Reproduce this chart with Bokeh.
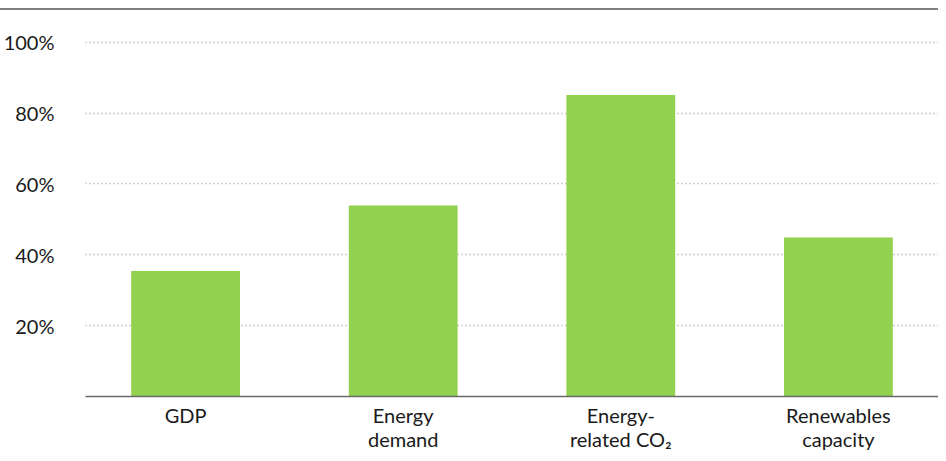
from bokeh.plotting import figure
from bokeh.models import FixedTicker, Range1d, FactorRange
from bokeh.embed import file_html
from bokeh.resources import INLINE

categories = ["GDP", "Energy\ndemand", "Energy-\nrelated CO\u2082", "Renewables\ncapacity"]
shares = [35.4, 53.9, 85.1, 44.9]
y_ticks = [20, 40, 60, 80, 100]
y_labels = {20: "20%", 40: "40%", 60: "60%", 80: "80%", 100: "100%"}

FONT = "Lato"

p = figure(width=938, height=443,
           x_range=FactorRange(*categories, range_padding=-0.04, range_padding_units="absolute"),
           y_range=Range1d(0, 105),
           output_backend="svg", toolbar_location=None,
           min_border_left=84, min_border_right=0, min_border_top=14, min_border_bottom=55)
p.styles = {"margin-top": "8px", "border-top": "2px solid #808080"}
p.outline_line_color = None
p.background_fill_color = "white"
p.border_fill_color = "white"

p.vbar(x=categories, top=shares, width=0.5, fill_color="#92D050", line_color=None)

p.xgrid.grid_line_color = None
p.ygrid.ticker = FixedTicker(ticks=y_ticks)
p.ygrid.grid_line_color = "#a0a0a0"
p.ygrid.grid_line_dash = "1 3"
p.ygrid.grid_line_width = 1.5

p.yaxis.ticker = FixedTicker(ticks=y_ticks)
p.yaxis.major_label_overrides = y_labels
p.yaxis.axis_line_color = None
p.yaxis.major_tick_line_color = None
p.yaxis.minor_tick_line_color = None
p.yaxis.major_label_standoff = 25
p.yaxis.major_label_text_font = FONT
p.yaxis.major_label_text_font_size = "20px"
p.yaxis.major_label_text_color = "#1a1a1a"

p.xaxis.axis_line_color = "#6a6a6a"
p.xaxis.axis_line_width = 1.5
p.xaxis.major_tick_line_color = None
p.xaxis.minor_tick_line_color = None
p.xaxis.major_label_standoff = 0
p.xaxis.major_label_text_font = FONT
p.xaxis.major_label_text_font_size = "20px"
p.xaxis.major_label_text_color = "#1a1a1a"
p.xaxis.major_label_text_line_height = 1.0

open("out.html", "w").write(file_html(p, INLINE))
